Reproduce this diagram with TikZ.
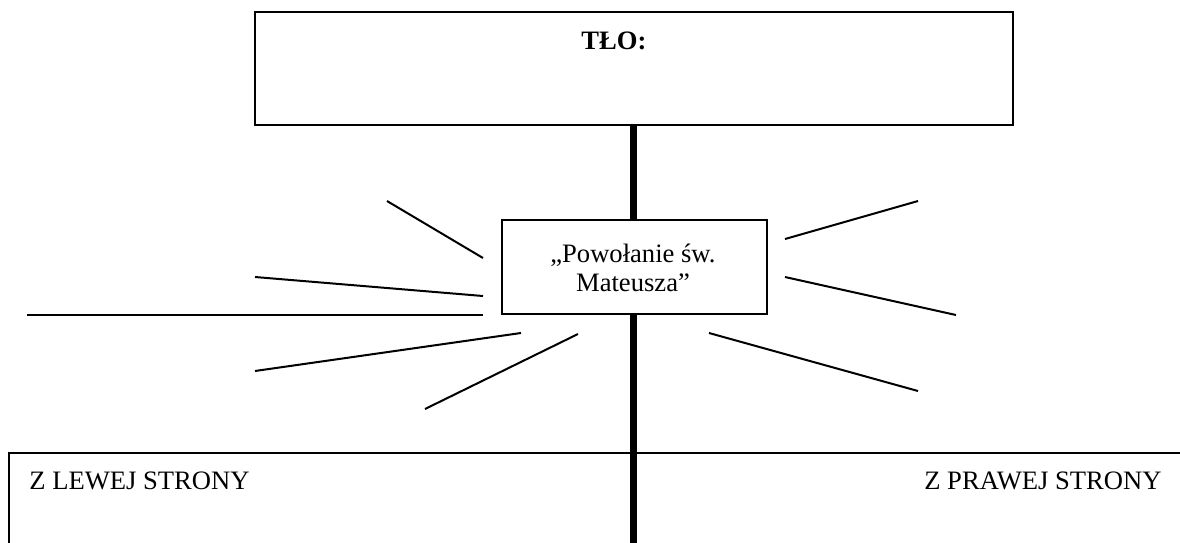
\documentclass[tikz,border=0pt]{standalone}
\usepackage{fontspec}
\setmainfont{Liberation Serif}
\begin{document}
\begin{tikzpicture}[x=0.5pt,y=-0.5pt,
  box/.style={draw, line width=1pt, inner sep=0pt, outer sep=0pt},
  ray/.style={line width=1pt},
  spine/.style={line width=3.6pt},
  txt/.style={font=\fontsize{13.3}{14.8}\selectfont, inner sep=0pt}]
\clip (0,0) rectangle (1180,542);
\useasboundingbox (0,0) rectangle (1180,542);
% top box
\node[box, minimum width=379pt, minimum height=56.5pt] (top) at (634,68.75) {};
\node[txt, font=\fontsize{13.3}{14.8}\selectfont\bfseries, anchor=base] (tlo) at (614,49) {TŁO:};
% middle box
\node[box, minimum width=132.5pt, minimum height=47pt] (mid) at (634.5,267) {};
\node[txt, align=center] (midtxt) at (633,268) {„Powołanie św.\\Mateusza”};
% bottom box (open to the right and below)
\coordinate (bl) at (9,600);
\coordinate (btl) at (9,453);
\coordinate (btr) at (1250,453);
\coordinate (bend) at (634,600);
\draw[line width=1pt] (bl) -- (btl) -- (btr);
\node[txt, anchor=base west] (left) at (29,489) {Z LEWEJ STRONY};
\node[txt, anchor=base east] (right) at (1162,489) {Z PRAWEJ STRONY};
% spine
\draw[spine] (top.south -| 633.5,0) -- (mid.north -| 633.5,0);
\draw[spine] (mid.south -| 633.5,0) -- (bend -| 633.5,0);
% rays
\draw[ray] (387,201) -- (483,258);
\draw[ray] (255,277) -- (483,296);
\draw[ray] (27,315) -- (483,315);
\draw[ray] (255,371) -- (521,333);
\draw[ray] (425,409) -- (578,334);
\draw[ray] (785,239) -- (918,201);
\draw[ray] (785,277) -- (956,315);
\draw[ray] (709,333) -- (918,391);
\end{tikzpicture}
\end{document}
